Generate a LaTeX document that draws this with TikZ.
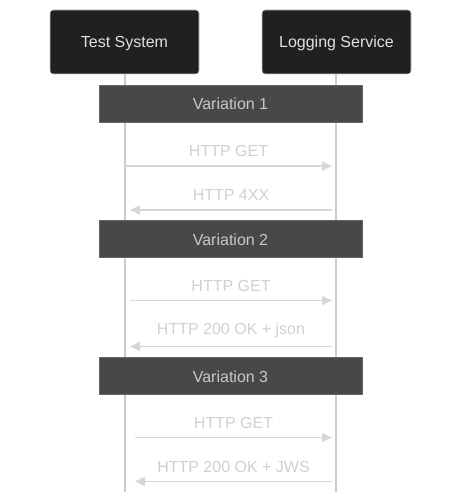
\documentclass[tikz,border=0pt]{standalone}
\usepackage{fontspec}
\setmainfont{Liberation Sans}
\usetikzlibrary{arrows.meta,calc}
\definecolor{actorfill}{HTML}{1F2020}
\definecolor{actorline}{HTML}{CCCCCC}
\definecolor{actortext}{HTML}{E0E0E0}
\definecolor{notefill}{HTML}{474949}
\definecolor{noteline}{HTML}{666666}
\definecolor{notetext}{HTML}{C8C8C8}
\definecolor{lifeline}{HTML}{CCCCCC}
\definecolor{msgline}{HTML}{D6D6D6}
\definecolor{msgtext}{HTML}{D0D0D0}
\begin{document}
\begin{tikzpicture}[x=1pt,y=-1pt,
  actorbox/.style={draw=actorline,line width=0.6pt,fill=actorfill,rounded corners=3pt,
    minimum width=149pt,minimum height=64pt,inner sep=0pt,text=actortext,
    text height=12pt,text depth=0pt,font=\fontsize{16}{19}\selectfont},
  notebox/.style={draw=noteline,line width=0.8pt,fill=notefill,minimum width=263pt,
    minimum height=37pt,inner sep=0pt,text=notetext,text height=13pt,text depth=0pt,
    font=\fontsize{16}{19}\selectfont},
  lifeln/.style={draw=lifeline,line width=1.2pt},
  msg/.style={draw=msgline,line width=1.5pt,-{Triangle[length=10pt,width=9pt]}},
  msglabel/.style={text=msgtext,font=\fontsize{16}{19}\selectfont,inner sep=0pt}]
\useasboundingbox (0,0) rectangle (462,492);
% lifelines
\coordinate (tsend) at (125,492);
\coordinate (lsend) at (336,492);
\node[actorbox] (ts) at (124.5,42) {Test System};
\node[actorbox] (ls) at (336.5,42) {Logging Service};
\draw[lifeln] (ts.south -| tsend) -- (tsend);
\draw[lifeln] (ls.south -| lsend) -- (lsend);
% notes
\node[notebox] (v1) at (230.5,103.5) {Variation 1};
\node[notebox] (v2) at (230.5,238.5) {Variation 2};
\node[notebox] (v3) at (230.5,375.5) {Variation 3};
% message anchor points
\coordinate (a1) at (125,166); \coordinate (b1) at (332,166);
\coordinate (a2) at (332,210); \coordinate (b2) at (130,210);
\coordinate (a3) at (130,300.5); \coordinate (b3) at (332,300.5);
\coordinate (a4) at (332,346.5); \coordinate (b4) at (130,346.5);
\coordinate (a5) at (135,437.5); \coordinate (b5) at (332,437.5);
\coordinate (a6) at (332,481.5); \coordinate (b6) at (135,481.5);
\draw[msg] (a1) -- (b1);
\draw[msg] (a2) -- (b2);
\draw[msg] (a3) -- (b3);
\draw[msg] (a4) -- (b4);
\draw[msg] (a5) -- (b5);
\draw[msg] (a6) -- (b6);
\node[msglabel] (m1) at ($(a1)!0.5!(b1)+(0,-15)$) {HTTP GET};
\node[msglabel] (m2) at ($(a2)!0.5!(b2)+(0,-15)$) {HTTP 4XX};
\node[msglabel] (m3) at ($(a3)!0.5!(b3)+(0,-15)$) {HTTP GET};
\node[msglabel] (m4) at ($(a4)!0.5!(b4)+(0,-16)$) {HTTP 200 OK + json};
\node[msglabel] (m5) at ($(a5)!0.5!(b5)+(0,-15)$) {HTTP GET};
\node[msglabel] (m6) at ($(a6)!0.5!(b6)+(0,-15)$) {HTTP 200 OK + JWS};
\end{tikzpicture}
\end{document}
